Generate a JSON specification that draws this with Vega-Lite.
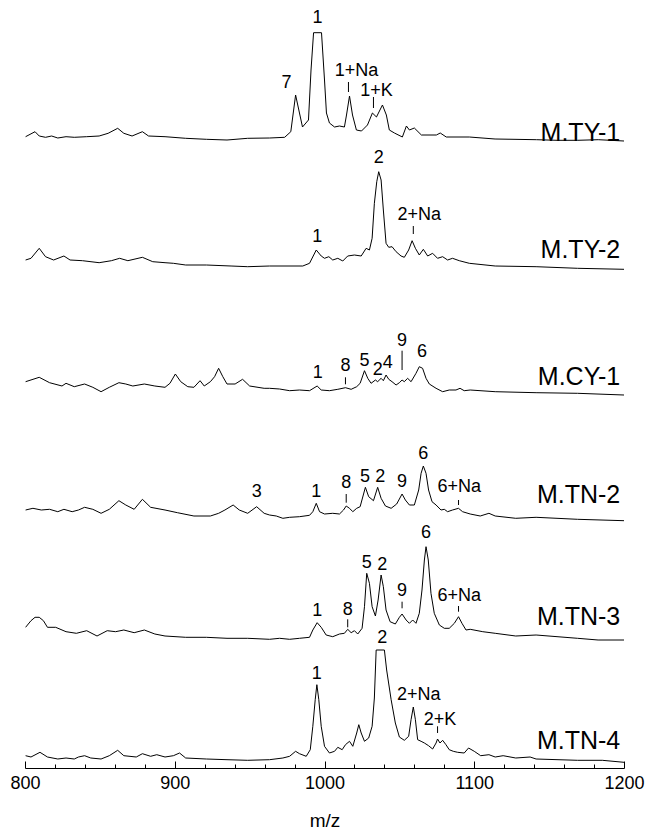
{
"$schema": "https://vega.github.io/schema/vega-lite/v6.json",
"autosize": "none",
"width": 599,
"height": 768,
"padding": {"left": 25, "right": 21, "top": 0, "bottom": 68},
"background": "white",
"config": {"view": {"stroke": null}, "font": "Liberation Sans"},
"datasets": {
"spec": [
{"s":"TY1","mz":800.4,"v":643.3},{"s":"TY1","mz":806.7,"v":648.3},{"s":"TY1","mz":809.5,"v":644},{"s":"TY1","mz":813.7,"v":642.7},{"s":"TY1","mz":817.8,"v":644},{"s":"TY1","mz":821.9,"v":642},{"s":"TY1","mz":827.4,"v":643.3},{"s":"TY1","mz":832.9,"v":642.7},{"s":"TY1","mz":841.2,"v":643.3},{"s":"TY1","mz":849.5,"v":644},{"s":"TY1","mz":855.5,"v":646.7},{"s":"TY1","mz":861.9,"v":651.7},{"s":"TY1","mz":866,"v":646.7},{"s":"TY1","mz":871.5,"v":644},{"s":"TY1","mz":878.4,"v":648.3},{"s":"TY1","mz":882.5,"v":644},{"s":"TY1","mz":893.5,"v":643.3},{"s":"TY1","mz":907.3,"v":641.7},{"s":"TY1","mz":921.1,"v":640.7},{"s":"TY1","mz":934.9,"v":640},{"s":"TY1","mz":948.7,"v":641.7},{"s":"TY1","mz":963.3,"v":642},{"s":"TY1","mz":973.4,"v":642.7},{"s":"TY1","mz":977.5,"v":648.3},{"s":"TY1","mz":980.7,"v":685},{"s":"TY1","mz":985.3,"v":653},{"s":"TY1","mz":989.3,"v":660},{"s":"TY1","mz":991,"v":710},{"s":"TY1","mz":992.7,"v":747.3},{"s":"TY1","mz":998,"v":747.3},{"s":"TY1","mz":1000,"v":700},{"s":"TY1","mz":1001.3,"v":667},{"s":"TY1","mz":1003.3,"v":657},{"s":"TY1","mz":1006.7,"v":653},{"s":"TY1","mz":1010,"v":654},{"s":"TY1","mz":1013.3,"v":653},{"s":"TY1","mz":1014.7,"v":665},{"s":"TY1","mz":1016.7,"v":684},{"s":"TY1","mz":1018.7,"v":665},{"s":"TY1","mz":1021.3,"v":650},{"s":"TY1","mz":1024.7,"v":649},{"s":"TY1","mz":1028.7,"v":655},{"s":"TY1","mz":1032,"v":667},{"s":"TY1","mz":1034.7,"v":663},{"s":"TY1","mz":1038.7,"v":675},{"s":"TY1","mz":1041.3,"v":665},{"s":"TY1","mz":1043.3,"v":650},{"s":"TY1","mz":1046.7,"v":647},{"s":"TY1","mz":1052,"v":643},{"s":"TY1","mz":1054.7,"v":654},{"s":"TY1","mz":1056.7,"v":650},{"s":"TY1","mz":1060,"v":652},{"s":"TY1","mz":1064.7,"v":645},{"s":"TY1","mz":1074.7,"v":645},{"s":"TY1","mz":1077.3,"v":647},{"s":"TY1","mz":1081.3,"v":643},{"s":"TY1","mz":1096.7,"v":643},{"s":"TY1","mz":1113.9,"v":641},{"s":"TY1","mz":1141.5,"v":640.3},{"s":"TY1","mz":1155.3,"v":639.7},{"s":"TY1","mz":1169,"v":639.7},{"s":"TY1","mz":1182.8,"v":640.3},{"s":"TY1","mz":1200,"v":639},
{"s":"TY2","mz":800.4,"v":520},{"s":"TY2","mz":804,"v":521.7},{"s":"TY2","mz":809.5,"v":531.7},{"s":"TY2","mz":813.7,"v":523.3},{"s":"TY2","mz":819.1,"v":520},{"s":"TY2","mz":826,"v":524},{"s":"TY2","mz":830.1,"v":520},{"s":"TY2","mz":838.4,"v":519.3},{"s":"TY2","mz":849.5,"v":517.3},{"s":"TY2","mz":857.7,"v":519.3},{"s":"TY2","mz":863.2,"v":521.7},{"s":"TY2","mz":868.7,"v":519.3},{"s":"TY2","mz":878.4,"v":522.7},{"s":"TY2","mz":885.3,"v":518.3},{"s":"TY2","mz":893.5,"v":517.3},{"s":"TY2","mz":899.1,"v":516.7},{"s":"TY2","mz":907.3,"v":515},{"s":"TY2","mz":921.1,"v":515},{"s":"TY2","mz":937.6,"v":514},{"s":"TY2","mz":948.7,"v":513.3},{"s":"TY2","mz":963.3,"v":514},{"s":"TY2","mz":985.5,"v":514},{"s":"TY2","mz":990,"v":516.7},{"s":"TY2","mz":994.5,"v":530},{"s":"TY2","mz":997.8,"v":524},{"s":"TY2","mz":1000,"v":521.7},{"s":"TY2","mz":1002.9,"v":523.3},{"s":"TY2","mz":1005.5,"v":520},{"s":"TY2","mz":1008.9,"v":521.7},{"s":"TY2","mz":1012.2,"v":519},{"s":"TY2","mz":1015.5,"v":524},{"s":"TY2","mz":1020,"v":525},{"s":"TY2","mz":1024.5,"v":524},{"s":"TY2","mz":1027.8,"v":531.7},{"s":"TY2","mz":1030,"v":530},{"s":"TY2","mz":1031.8,"v":541.7},{"s":"TY2","mz":1033.3,"v":576.7},{"s":"TY2","mz":1034.9,"v":598.3},{"s":"TY2","mz":1036.2,"v":608.3},{"s":"TY2","mz":1037.8,"v":600},{"s":"TY2","mz":1039.3,"v":570},{"s":"TY2","mz":1041.1,"v":536.7},{"s":"TY2","mz":1042.9,"v":532.7},{"s":"TY2","mz":1045.1,"v":533.3},{"s":"TY2","mz":1047.8,"v":528.3},{"s":"TY2","mz":1051.1,"v":524},{"s":"TY2","mz":1053.3,"v":522.7},{"s":"TY2","mz":1056.2,"v":530},{"s":"TY2","mz":1058.5,"v":539.3},{"s":"TY2","mz":1060.7,"v":531.7},{"s":"TY2","mz":1063.3,"v":525},{"s":"TY2","mz":1066,"v":530.7},{"s":"TY2","mz":1068.9,"v":524},{"s":"TY2","mz":1072.2,"v":526.7},{"s":"TY2","mz":1075.5,"v":521.7},{"s":"TY2","mz":1078.9,"v":523.3},{"s":"TY2","mz":1082.2,"v":520},{"s":"TY2","mz":1085.5,"v":521.7},{"s":"TY2","mz":1090,"v":519.3},{"s":"TY2","mz":1096.7,"v":516.7},{"s":"TY2","mz":1114,"v":514},{"s":"TY2","mz":1141.3,"v":513.3},{"s":"TY2","mz":1169,"v":511.7},{"s":"TY2","mz":1200,"v":510.7},
{"s":"CY1","mz":800.4,"v":398.3},{"s":"CY1","mz":809.5,"v":402.7},{"s":"CY1","mz":816.4,"v":397.3},{"s":"CY1","mz":824.7,"v":394},{"s":"CY1","mz":827.4,"v":396.7},{"s":"CY1","mz":832.9,"v":393.3},{"s":"CY1","mz":839.8,"v":396},{"s":"CY1","mz":845.3,"v":392.7},{"s":"CY1","mz":850.8,"v":388.3},{"s":"CY1","mz":856.3,"v":392.7},{"s":"CY1","mz":862.7,"v":397.3},{"s":"CY1","mz":867.3,"v":396},{"s":"CY1","mz":872,"v":394},{"s":"CY1","mz":879.7,"v":396},{"s":"CY1","mz":886.7,"v":394},{"s":"CY1","mz":893.5,"v":392.7},{"s":"CY1","mz":896.8,"v":396.7},{"s":"CY1","mz":900.4,"v":406},{"s":"CY1","mz":904,"v":398.3},{"s":"CY1","mz":908.7,"v":393.3},{"s":"CY1","mz":912.8,"v":392.7},{"s":"CY1","mz":916.9,"v":399.3},{"s":"CY1","mz":919.7,"v":394},{"s":"CY1","mz":923.8,"v":398.3},{"s":"CY1","mz":926.6,"v":403.3},{"s":"CY1","mz":929.3,"v":411.7},{"s":"CY1","mz":932.1,"v":403.3},{"s":"CY1","mz":934.9,"v":396},{"s":"CY1","mz":940.3,"v":396},{"s":"CY1","mz":945.3,"v":400.7},{"s":"CY1","mz":950,"v":394},{"s":"CY1","mz":959.7,"v":391.7},{"s":"CY1","mz":963.3,"v":391.7},{"s":"CY1","mz":970,"v":391},{"s":"CY1","mz":976.7,"v":389.3},{"s":"CY1","mz":983.3,"v":390},{"s":"CY1","mz":990,"v":389.3},{"s":"CY1","mz":995.1,"v":394},{"s":"CY1","mz":997.8,"v":390},{"s":"CY1","mz":1003.3,"v":389.3},{"s":"CY1","mz":1008.9,"v":390.7},{"s":"CY1","mz":1014,"v":392.3},{"s":"CY1","mz":1017.8,"v":390.7},{"s":"CY1","mz":1021.5,"v":393.3},{"s":"CY1","mz":1023.8,"v":396.7},{"s":"CY1","mz":1026.7,"v":409.3},{"s":"CY1","mz":1028.9,"v":401.7},{"s":"CY1","mz":1031.1,"v":396.7},{"s":"CY1","mz":1034,"v":400},{"s":"CY1","mz":1035.5,"v":398.3},{"s":"CY1","mz":1037.8,"v":401.7},{"s":"CY1","mz":1039.3,"v":399.3},{"s":"CY1","mz":1041.1,"v":405},{"s":"CY1","mz":1042.9,"v":400.7},{"s":"CY1","mz":1045.1,"v":398.3},{"s":"CY1","mz":1047.8,"v":395},{"s":"CY1","mz":1050,"v":397.3},{"s":"CY1","mz":1051.8,"v":400},{"s":"CY1","mz":1053.3,"v":398.3},{"s":"CY1","mz":1055.5,"v":401.7},{"s":"CY1","mz":1057.8,"v":398.3},{"s":"CY1","mz":1061.1,"v":406.7},{"s":"CY1","mz":1063.3,"v":413.3},{"s":"CY1","mz":1065.5,"v":411.7},{"s":"CY1","mz":1067.8,"v":401.7},{"s":"CY1","mz":1070,"v":396},{"s":"CY1","mz":1074.5,"v":391.7},{"s":"CY1","mz":1078.9,"v":388.3},{"s":"CY1","mz":1083.3,"v":390},{"s":"CY1","mz":1087.8,"v":390},{"s":"CY1","mz":1090.5,"v":391.7},{"s":"CY1","mz":1093.3,"v":389.3},{"s":"CY1","mz":1097.3,"v":390},{"s":"CY1","mz":1114,"v":388.3},{"s":"CY1","mz":1141.3,"v":387.3},{"s":"CY1","mz":1169,"v":386.7},{"s":"CY1","mz":1200,"v":385},
{"s":"TN2","mz":800.4,"v":270},{"s":"TN2","mz":805.3,"v":271.7},{"s":"TN2","mz":810.9,"v":270},{"s":"TN2","mz":816.4,"v":270.7},{"s":"TN2","mz":821.9,"v":268.3},{"s":"TN2","mz":826,"v":270.7},{"s":"TN2","mz":831.5,"v":268.3},{"s":"TN2","mz":835.7,"v":270},{"s":"TN2","mz":839.8,"v":272.7},{"s":"TN2","mz":845.3,"v":270.7},{"s":"TN2","mz":850.8,"v":266.7},{"s":"TN2","mz":856.3,"v":270.7},{"s":"TN2","mz":862.7,"v":279.3},{"s":"TN2","mz":867.3,"v":275},{"s":"TN2","mz":872.9,"v":270.7},{"s":"TN2","mz":878.4,"v":280.7},{"s":"TN2","mz":883.9,"v":272.7},{"s":"TN2","mz":893.5,"v":270},{"s":"TN2","mz":901.8,"v":267.3},{"s":"TN2","mz":912.8,"v":264},{"s":"TN2","mz":923.8,"v":264},{"s":"TN2","mz":929.3,"v":266.7},{"s":"TN2","mz":933.5,"v":270},{"s":"TN2","mz":939,"v":275},{"s":"TN2","mz":943.1,"v":270},{"s":"TN2","mz":948.7,"v":266.7},{"s":"TN2","mz":954.7,"v":273.3},{"s":"TN2","mz":959.7,"v":266.7},{"s":"TN2","mz":963.3,"v":265},{"s":"TN2","mz":967.8,"v":264},{"s":"TN2","mz":972.2,"v":261.7},{"s":"TN2","mz":976.7,"v":262.7},{"s":"TN2","mz":983.3,"v":263.3},{"s":"TN2","mz":990,"v":264.7},{"s":"TN2","mz":992.2,"v":268.3},{"s":"TN2","mz":994.5,"v":276.7},{"s":"TN2","mz":996.7,"v":268.3},{"s":"TN2","mz":1000,"v":266},{"s":"TN2","mz":1005.5,"v":266.7},{"s":"TN2","mz":1010,"v":266},{"s":"TN2","mz":1012.7,"v":270},{"s":"TN2","mz":1014.5,"v":274},{"s":"TN2","mz":1016.7,"v":271.7},{"s":"TN2","mz":1018.9,"v":268.3},{"s":"TN2","mz":1021.5,"v":271.7},{"s":"TN2","mz":1023.8,"v":273.3},{"s":"TN2","mz":1027.3,"v":292.7},{"s":"TN2","mz":1029.5,"v":283.3},{"s":"TN2","mz":1032.7,"v":279.3},{"s":"TN2","mz":1035.5,"v":292.7},{"s":"TN2","mz":1037.8,"v":281.7},{"s":"TN2","mz":1040.7,"v":274},{"s":"TN2","mz":1044.5,"v":271.7},{"s":"TN2","mz":1048.2,"v":276},{"s":"TN2","mz":1051.8,"v":286},{"s":"TN2","mz":1054,"v":280},{"s":"TN2","mz":1056.7,"v":275},{"s":"TN2","mz":1060,"v":275},{"s":"TN2","mz":1062.9,"v":290},{"s":"TN2","mz":1064.5,"v":306.7},{"s":"TN2","mz":1066,"v":314},{"s":"TN2","mz":1067.8,"v":306.7},{"s":"TN2","mz":1069.5,"v":290},{"s":"TN2","mz":1071.8,"v":278.3},{"s":"TN2","mz":1074.5,"v":275},{"s":"TN2","mz":1077.8,"v":270},{"s":"TN2","mz":1080,"v":270.7},{"s":"TN2","mz":1082.2,"v":268.3},{"s":"TN2","mz":1085.5,"v":270},{"s":"TN2","mz":1089.5,"v":271.7},{"s":"TN2","mz":1092.2,"v":268.3},{"s":"TN2","mz":1097.3,"v":266},{"s":"TN2","mz":1104,"v":264},{"s":"TN2","mz":1109.8,"v":266.7},{"s":"TN2","mz":1114,"v":264},{"s":"TN2","mz":1127.7,"v":261.7},{"s":"TN2","mz":1141.3,"v":262.7},{"s":"TN2","mz":1169,"v":260.7},{"s":"TN2","mz":1200,"v":259.3},
{"s":"TN3","mz":800.4,"v":152.7},{"s":"TN3","mz":804,"v":159.3},{"s":"TN3","mz":806.7,"v":162.7},{"s":"TN3","mz":809.5,"v":162.7},{"s":"TN3","mz":812.3,"v":159.3},{"s":"TN3","mz":815,"v":152.7},{"s":"TN3","mz":820.5,"v":152.7},{"s":"TN3","mz":827.4,"v":148.3},{"s":"TN3","mz":834.3,"v":146.7},{"s":"TN3","mz":841.2,"v":149.3},{"s":"TN3","mz":848.1,"v":144},{"s":"TN3","mz":854.9,"v":149.3},{"s":"TN3","mz":860.5,"v":148.3},{"s":"TN3","mz":866,"v":150},{"s":"TN3","mz":872.9,"v":147.3},{"s":"TN3","mz":879.7,"v":150},{"s":"TN3","mz":886.7,"v":146},{"s":"TN3","mz":893.5,"v":144},{"s":"TN3","mz":907.3,"v":142.7},{"s":"TN3","mz":921.1,"v":142.7},{"s":"TN3","mz":934.9,"v":141.7},{"s":"TN3","mz":948.7,"v":141.7},{"s":"TN3","mz":963.3,"v":140.7},{"s":"TN3","mz":970,"v":141.7},{"s":"TN3","mz":976.7,"v":140.7},{"s":"TN3","mz":983.3,"v":141.7},{"s":"TN3","mz":990,"v":142.7},{"s":"TN3","mz":992.2,"v":150},{"s":"TN3","mz":995.1,"v":157.3},{"s":"TN3","mz":997.8,"v":152.7},{"s":"TN3","mz":1001.1,"v":145},{"s":"TN3","mz":1005.5,"v":143.3},{"s":"TN3","mz":1010,"v":146},{"s":"TN3","mz":1013.3,"v":146.7},{"s":"TN3","mz":1015.5,"v":150.7},{"s":"TN3","mz":1017.8,"v":147.3},{"s":"TN3","mz":1020,"v":149.3},{"s":"TN3","mz":1022.2,"v":146},{"s":"TN3","mz":1025.1,"v":151.7},{"s":"TN3","mz":1026.7,"v":173.3},{"s":"TN3","mz":1028.2,"v":206.7},{"s":"TN3","mz":1030,"v":196.7},{"s":"TN3","mz":1031.8,"v":173.3},{"s":"TN3","mz":1034,"v":164},{"s":"TN3","mz":1035.8,"v":180},{"s":"TN3","mz":1037.8,"v":205},{"s":"TN3","mz":1039.3,"v":193.3},{"s":"TN3","mz":1041.1,"v":170},{"s":"TN3","mz":1043.8,"v":158.3},{"s":"TN3","mz":1047.3,"v":156},{"s":"TN3","mz":1050,"v":162.7},{"s":"TN3","mz":1051.8,"v":166},{"s":"TN3","mz":1054.5,"v":160},{"s":"TN3","mz":1056.7,"v":156.7},{"s":"TN3","mz":1058.9,"v":160},{"s":"TN3","mz":1061.1,"v":156.7},{"s":"TN3","mz":1063.3,"v":166.7},{"s":"TN3","mz":1065.1,"v":190},{"s":"TN3","mz":1066.7,"v":220},{"s":"TN3","mz":1067.8,"v":233.3},{"s":"TN3","mz":1069.3,"v":220},{"s":"TN3","mz":1071.1,"v":186.7},{"s":"TN3","mz":1073.3,"v":166.7},{"s":"TN3","mz":1076.7,"v":155},{"s":"TN3","mz":1080,"v":151.7},{"s":"TN3","mz":1083.3,"v":151.7},{"s":"TN3","mz":1086.7,"v":156.7},{"s":"TN3","mz":1089.5,"v":163.3},{"s":"TN3","mz":1091.8,"v":156.7},{"s":"TN3","mz":1094.5,"v":150},{"s":"TN3","mz":1097.3,"v":150.7},{"s":"TN3","mz":1105.7,"v":148.3},{"s":"TN3","mz":1114,"v":146.7},{"s":"TN3","mz":1127.7,"v":144},{"s":"TN3","mz":1141.3,"v":145},{"s":"TN3","mz":1169,"v":141.7},{"s":"TN3","mz":1182.7,"v":140},{"s":"TN3","mz":1200,"v":140},
{"s":"TN4","mz":800.4,"v":24.3},{"s":"TN4","mz":804,"v":23},{"s":"TN4","mz":810,"v":27.7},{"s":"TN4","mz":815,"v":23},{"s":"TN4","mz":821.9,"v":21},{"s":"TN4","mz":827.4,"v":22},{"s":"TN4","mz":832.9,"v":21},{"s":"TN4","mz":835.7,"v":23},{"s":"TN4","mz":839.8,"v":24.3},{"s":"TN4","mz":843.9,"v":22},{"s":"TN4","mz":850.8,"v":21},{"s":"TN4","mz":856.3,"v":24.3},{"s":"TN4","mz":861.9,"v":29.7},{"s":"TN4","mz":866,"v":24.3},{"s":"TN4","mz":874.3,"v":23},{"s":"TN4","mz":878.4,"v":26.3},{"s":"TN4","mz":883.9,"v":23.7},{"s":"TN4","mz":888,"v":25.3},{"s":"TN4","mz":893.5,"v":23},{"s":"TN4","mz":899.1,"v":24.3},{"s":"TN4","mz":903.2,"v":27},{"s":"TN4","mz":907.3,"v":22},{"s":"TN4","mz":921.1,"v":21},{"s":"TN4","mz":934.9,"v":20.3},{"s":"TN4","mz":948.7,"v":19.7},{"s":"TN4","mz":963.3,"v":20.3},{"s":"TN4","mz":972.2,"v":22},{"s":"TN4","mz":976.7,"v":23.7},{"s":"TN4","mz":980.7,"v":28.7},{"s":"TN4","mz":983.3,"v":26.3},{"s":"TN4","mz":987.8,"v":23.7},{"s":"TN4","mz":990.5,"v":30.3},{"s":"TN4","mz":992.2,"v":53.7},{"s":"TN4","mz":993.8,"v":80.3},{"s":"TN4","mz":994.9,"v":95.3},{"s":"TN4","mz":996.2,"v":80.3},{"s":"TN4","mz":997.8,"v":53.7},{"s":"TN4","mz":1000,"v":33.7},{"s":"TN4","mz":1003.3,"v":27},{"s":"TN4","mz":1006.7,"v":28.7},{"s":"TN4","mz":1008.9,"v":32.7},{"s":"TN4","mz":1011.8,"v":30.3},{"s":"TN4","mz":1014,"v":35.3},{"s":"TN4","mz":1016.7,"v":38.7},{"s":"TN4","mz":1018.9,"v":33.7},{"s":"TN4","mz":1021.5,"v":47},{"s":"TN4","mz":1022.9,"v":55.3},{"s":"TN4","mz":1024.5,"v":47},{"s":"TN4","mz":1026.7,"v":38.7},{"s":"TN4","mz":1029.5,"v":42},{"s":"TN4","mz":1031.8,"v":53.7},{"s":"TN4","mz":1033.3,"v":82},{"s":"TN4","mz":1034.5,"v":130},{"s":"TN4","mz":1040,"v":130},{"s":"TN4","mz":1041.5,"v":110},{"s":"TN4","mz":1044.5,"v":80.3},{"s":"TN4","mz":1047.3,"v":57},{"s":"TN4","mz":1050,"v":43},{"s":"TN4","mz":1053.3,"v":39.7},{"s":"TN4","mz":1056.2,"v":43.7},{"s":"TN4","mz":1057.8,"v":60.3},{"s":"TN4","mz":1059.3,"v":73},{"s":"TN4","mz":1060.7,"v":60.3},{"s":"TN4","mz":1062.2,"v":40.3},{"s":"TN4","mz":1064.5,"v":38.7},{"s":"TN4","mz":1066.7,"v":37},{"s":"TN4","mz":1069.5,"v":34.3},{"s":"TN4","mz":1072.2,"v":31},{"s":"TN4","mz":1074.5,"v":37},{"s":"TN4","mz":1075.5,"v":41},{"s":"TN4","mz":1077.1,"v":37},{"s":"TN4","mz":1078.9,"v":39.7},{"s":"TN4","mz":1081.1,"v":35.3},{"s":"TN4","mz":1083.3,"v":30.3},{"s":"TN4","mz":1086,"v":28.7},{"s":"TN4","mz":1088.9,"v":27.7},{"s":"TN4","mz":1093.3,"v":27},{"s":"TN4","mz":1096.2,"v":32},{"s":"TN4","mz":1100,"v":28.7},{"s":"TN4","mz":1104.3,"v":24.3},{"s":"TN4","mz":1109.8,"v":25.3},{"s":"TN4","mz":1114,"v":23},{"s":"TN4","mz":1119.3,"v":24.3},{"s":"TN4","mz":1127.7,"v":22},{"s":"TN4","mz":1137.3,"v":23},{"s":"TN4","mz":1141.3,"v":21},{"s":"TN4","mz":1169,"v":19.7},{"s":"TN4","mz":1185.5,"v":19.7},{"s":"TN4","mz":1200,"v":17.7}
],
"peaks": [
{"mz":995.3,"v":762,"t":"1"},{"mz":974.7,"v":697,"t":"7"},{"mz":1021.3,"v":709,"t":"1+Na"},{"mz":1034.7,"v":689,"t":"1+K"},
{"mz":995.1,"v":543,"t":"1"},{"mz":1036.2,"v":622,"t":"2"},{"mz":1063.3,"v":565,"t":"2+Na"},
{"mz":995.5,"v":406.7,"t":"1"},{"mz":1014,"v":414,"t":"8"},{"mz":1026.7,"v":419.3,"t":"5"},{"mz":1035.5,"v":410,"t":"2"},{"mz":1042.2,"v":417.3,"t":"4"},{"mz":1051.8,"v":439.3,"t":"9"},{"mz":1065.1,"v":427.7,"t":"6"},
{"mz":954.7,"v":288,"t":"3"},{"mz":994.5,"v":288.3,"t":"1"},{"mz":1014.5,"v":296.7,"t":"8"},{"mz":1027.1,"v":303.3,"t":"5"},{"mz":1037.3,"v":302.7,"t":"2"},{"mz":1051.8,"v":298.3,"t":"9"},{"mz":1066,"v":326,"t":"6"},{"mz":1090,"v":293.3,"t":"6+Na"},
{"mz":995.1,"v":169.3,"t":"1"},{"mz":1015.5,"v":170,"t":"8"},{"mz":1028.2,"v":217.3,"t":"5"},{"mz":1038.5,"v":215,"t":"2"},{"mz":1051.8,"v":189.3,"t":"9"},{"mz":1067.8,"v":247,"t":"6"},{"mz":1090,"v":184,"t":"6+Na"},
{"mz":994.9,"v":106,"t":"1"},{"mz":1038.5,"v":142,"t":"2"},{"mz":1062.9,"v":85,"t":"2+Na"},{"mz":1077.1,"v":60,"t":"2+K"}
],
"ticks": [
{"mz":1016,"top":698,"bot":688},{"mz":1032.7,"top":683,"bot":672},
{"mz":1059.3,"top":554,"bot":546},
{"mz":1014,"top":402.7,"bot":395.7},{"mz":1051.8,"top":429.3,"bot":410},
{"mz":1014.5,"top":286,"bot":277.3},{"mz":1089.5,"top":280,"bot":275},
{"mz":1015.5,"top":160.7,"bot":152.7},{"mz":1051.8,"top":178.3,"bot":171.7},{"mz":1089.5,"top":174,"bot":168.3},
{"mz":1075.5,"top":53.7,"bot":47}
],
"names": [
{"mz":1197.5,"v":647,"t":"M.TY-1"},{"mz":1197.5,"v":530,"t":"M.TY-2"},{"mz":1197.5,"v":403.3,"t":"M.CY-1"},{"mz":1197.5,"v":285,"t":"M.TN-2"},{"mz":1197.5,"v":163,"t":"M.TN-3"},{"mz":1197.5,"v":39,"t":"M.TN-4"}
]
},
"layer": [
{
"data": {"name": "spec"},
"mark": {"type": "line", "color": "#000", "strokeWidth": 1, "clip": true},
"encoding": {
"x": {"field": "mz", "type": "quantitative", "scale": {"domain": [800, 1200], "nice": false}, "title": "m/z",
"axis": {"orient": "bottom", "values": [800, 900, 1000, 1100, 1200], "format": "d", "tickSize": -7, "tickColor": "#000", "tickWidth": 1, "domainColor": "#000", "domainWidth": 1, "labelFont": "Liberation Sans", "labelFontSize": 18, "labelColor": "#000", "labelPadding": 13, "labelFlush": false, "labelOverlap": false, "grid": false, "titleFont": "Liberation Sans", "titleFontSize": 19, "titleFontWeight": "normal", "titleColor": "#000", "titlePadding": 19}},
"y": {"field": "v", "type": "quantitative", "scale": {"domain": [12, 780], "nice": false, "zero": false}, "axis": null},
"detail": {"field": "s"}
}
},
{
"data": {"name": "ticks"},
"mark": {"type": "rule", "color": "#000", "strokeWidth": 1},
"encoding": {
"x": {"field": "mz", "type": "quantitative", "scale": {"domain": [800, 1200], "nice": false},
"axis": {"orient": "bottom", "values": [820, 840, 860, 880, 920, 940, 960, 980, 1020, 1040, 1060, 1080, 1120, 1140, 1160, 1180], "tickSize": -4, "tickColor": "#000", "tickWidth": 1, "domain": false, "labels": false, "title": null, "grid": false}},
"y": {"field": "top", "type": "quantitative", "scale": {"domain": [12, 780], "nice": false, "zero": false}, "axis": null},
"y2": {"field": "bot"}
}
},
{
"data": {"name": "peaks"},
"mark": {"type": "text", "font": "Liberation Sans", "fontSize": 18, "color": "#000", "align": "center", "baseline": "middle"},
"encoding": {
"x": {"field": "mz", "type": "quantitative", "axis": null},
"y": {"field": "v", "type": "quantitative", "axis": null},
"text": {"field": "t"}
}
},
{
"data": {"name": "names"},
"mark": {"type": "text", "font": "Liberation Sans", "fontSize": 25, "color": "#000", "align": "right", "baseline": "middle"},
"encoding": {
"x": {"field": "mz", "type": "quantitative", "axis": null},
"y": {"field": "v", "type": "quantitative", "axis": null},
"text": {"field": "t"}
}
}
],
"resolve": {"axis": {"x": "independent"}}
}
